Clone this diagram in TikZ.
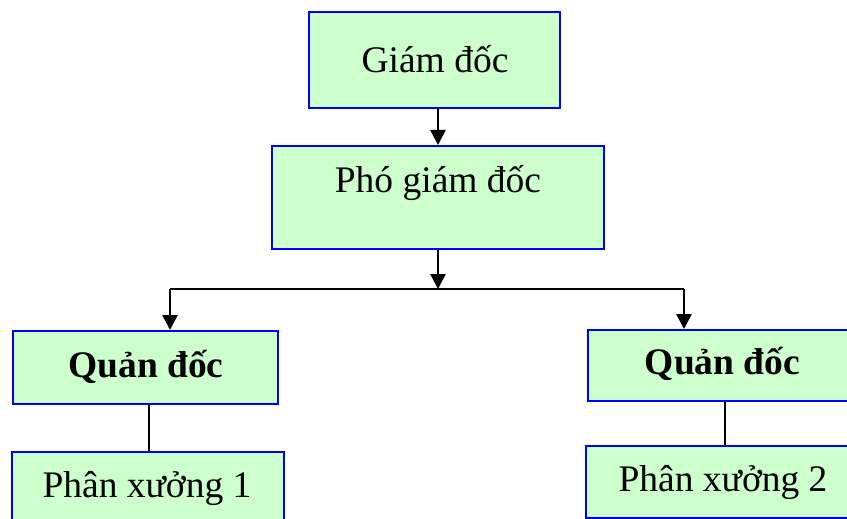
\documentclass[tikz,border=0pt]{standalone}
\usepackage{fontspec}
\setmainfont{Liberation Serif}
\usetikzlibrary{arrows.meta}
\definecolor{boxgreen}{HTML}{CCFFCC}
\definecolor{boxblue}{HTML}{0000FF}
\tikzset{
  box/.style={draw=boxblue, fill=boxgreen, line width=2pt, rectangle, inner sep=0pt},
  lbl/.style={anchor=base, inner sep=0pt, font=\fontsize{37.5}{45}\selectfont},
  lblb/.style={anchor=base, inner sep=0pt, font=\fontsize{37.5}{45}\selectfont\bfseries},
  arr/.style={line width=2.6pt, -{Triangle[length=15pt,width=15pt]}},
  link/.style={line width=2pt}
}
\begin{document}
\begin{tikzpicture}[x=1pt, y=-1pt]
  \useasboundingbox (0,0) rectangle (847,519);
  % boxes
  \node[box, minimum width=251pt, minimum height=96pt] (gd) at (434.5,60) {};
  \node[box, minimum width=332pt, minimum height=103pt] (pgd) at (438,197.5) {};
  \node[box, minimum width=265pt, minimum height=73pt] (qd1) at (145.5,367.5) {};
  \node[box, minimum width=269pt, minimum height=71pt] (qd2) at (722.5,365.5) {};
  \node[box, minimum width=272pt, minimum height=72pt] (px1) at (148,488) {};
  \node[box, minimum width=274pt, minimum height=72pt] (px2) at (723,482) {};
  % labels
  \node[lbl] (tgd) at (435,73) {Giám đốc};
  \node[lbl] (tpgd) at (438,192) {Phó giám đốc};
  \node[lblb] (tqd1) at (146,377) {Quản đốc};
  \node[lblb] (tqd2) at (722.5,374) {Quản đốc};
  \node[lbl] (tpx1) at (147,497) {Phân xưởng 1};
  \node[lbl] (tpx2) at (723,491) {Phân xưởng 2};
  % branch line
  \coordinate (bl) at (170,289);
  \coordinate (br) at (684,289);
  \draw[link] (bl) -- (br);
  % connectors
  \draw[arr] (pgd.north |- gd.south) -- (pgd.north);
  \draw[arr] (pgd.south) -- (pgd.south |- bl);
  \draw[arr] (bl) -- (bl |- qd1.north);
  \draw[arr] (br) -- (br |- qd2.north);
  \draw[link] (149,0 |- qd1.south) -- (149,0 |- px1.north);
  \draw[link] (725,0 |- qd2.south) -- (725,0 |- px2.north);
\end{tikzpicture}
\end{document}
